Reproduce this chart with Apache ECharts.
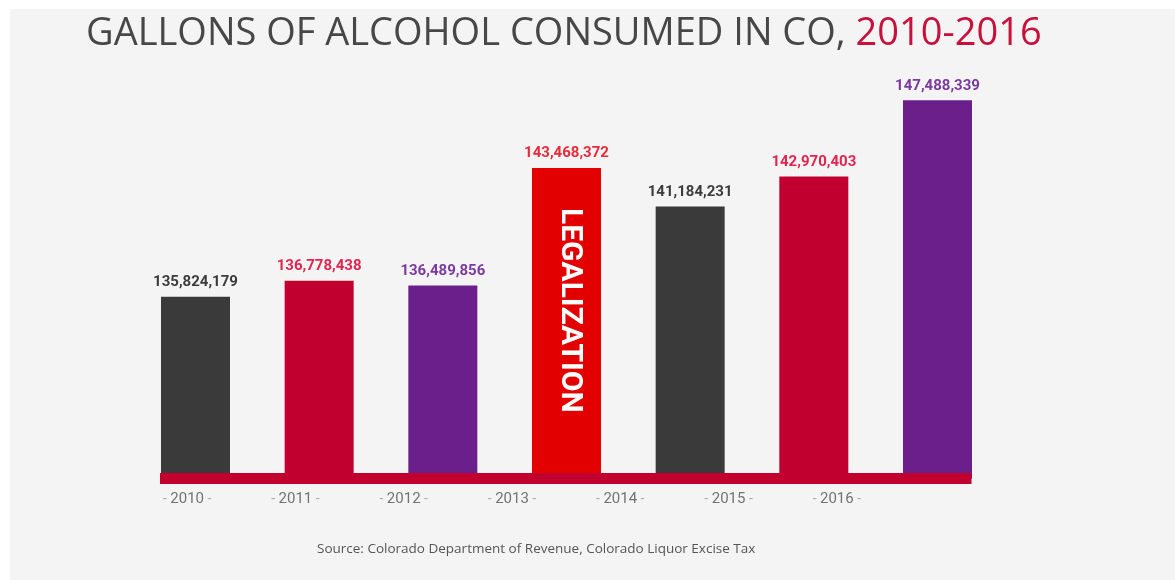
<!DOCTYPE html>
<html>
<head>
<meta charset="utf-8">
<script src="https://cdn.jsdelivr.net/npm/echarts@6/dist/echarts.min.js"></script>
<style>
html,body{margin:0;padding:0;background:#ffffff;}
#chart{width:1175px;height:580px;}
</style>
</head>
<body>
<div id="chart"></div>
<script>
// ---- data ----
const years = ['2010', '2011', '2012', '2013', '2014', '2015', '2016'];
const gallons = [135824179, 136778438, 136489856, 143468372, 141184231, 142970403, 147488339];
const barColors = ['#3a3a3a', '#c1002f', '#6b1f8a', '#e30000', '#3a3a3a', '#c1002f', '#6b1f8a'];
const labelColors = ['#3c3c3c', '#e2254f', '#7c3a9f', '#ea2a3a', '#3c3c3c', '#e2254f', '#7c3a9f'];
const eventLabels = ['', '', '', 'LEGALIZATION', '', '', ''];
const titleMain = 'GALLONS OF ALCOHOL CONSUMED IN CO, ';
const titleYears = '2010-2016';
const sourceText = 'Source: Colorado Department of Revenue, Colorado Liquor Excise Tax';

const fmt = v => v.toLocaleString('en-US');

const chart = echarts.init(document.getElementById('chart'), null, {renderer: 'canvas'});

const option = {
  backgroundColor: '#ffffff',
  animation: false,
  graphic: [
    {type: 'rect', z: -10, shape: {x: 10, y: 9, width: 1165, height: 571}, style: {fill: '#f4f4f4'}}
  ],
  title: [
    {
      text: '{a|' + titleMain + '}{b|' + titleYears + '}',
      left: 81, top: 10,
      textStyle: {
        rich: {
          a: {fontFamily: 'Open Sans', fontSize: 38, color: '#474747', fontWeight: 'normal'},
          b: {fontFamily: 'Open Sans', fontSize: 38, color: '#c8103c', fontWeight: 'normal'}
        }
      }
    },
    {
      text: sourceText,
      left: 312, top: 537,
      textStyle: {fontFamily: 'Open Sans', fontSize: 13.5, color: '#555', fontWeight: 'normal'}
    }
  ],
  grid: [
    {left: 160, right: 1175 - 971.5, top: 58, bottom: 101.5},
    {left: 133, width: 758, top: 480, height: 5}
  ],
  xAxis: [
    {
      type: 'value', gridIndex: 0, min: -0.287, max: 6.275, z: 5,
      axisLine: {show: true, lineStyle: {color: '#c1002f', width: 11, cap: 'butt'}},
      axisTick: {show: false}, axisLabel: {show: false}, splitLine: {show: false}
    },
    {
      type: 'category', gridIndex: 1, data: years,
      axisLine: {show: false}, axisTick: {show: false}, splitLine: {show: false},
      axisLabel: {
        interval: 0, margin: 7,
        formatter: v => '{d|- }{y|' + v + '}{d| -}',
        rich: {
          d: {fontFamily: 'Roboto', fontSize: 14, color: '#aaaaaa'},
          y: {fontFamily: 'Roboto', fontSize: 15, color: '#737373'}
        }
      }
    }
  ],
  yAxis: [
    {type: 'value', gridIndex: 0, min: 125040000, max: 150000000, show: false},
    {type: 'value', gridIndex: 1, show: false}
  ],
  series: [
    {
      type: 'bar', xAxisIndex: 0, yAxisIndex: 0, barWidth: 69,
      data: gallons.map((v, i) => ({
        value: [i, v],
        itemStyle: {color: barColors[i]},
        label: {color: labelColors[i]}
      })),
      label: {
        show: true, position: 'top', distance: 7,
        fontFamily: 'Roboto', fontWeight: 'bold', fontSize: 15,
        formatter: p => fmt(p.value[1])
      }
    },
    {
      type: 'bar', xAxisIndex: 0, yAxisIndex: 0, barWidth: 69, barGap: '-100%', z: 3,
      data: gallons.map((v, i) => ({value: [i, v], name: eventLabels[i]})),
      itemStyle: {color: 'rgba(0,0,0,0)'},
      label: {
        show: true, position: 'inside', rotate: -90,
        offset: [-13, -3],
        fontFamily: 'Roboto', fontWeight: 'bold', fontSize: 30, color: '#ffffff',
        formatter: p => eventLabels[p.dataIndex]
      },
      silent: true
    }
  ]
};
chart.setOption(option);
</script>
</body>
</html>
